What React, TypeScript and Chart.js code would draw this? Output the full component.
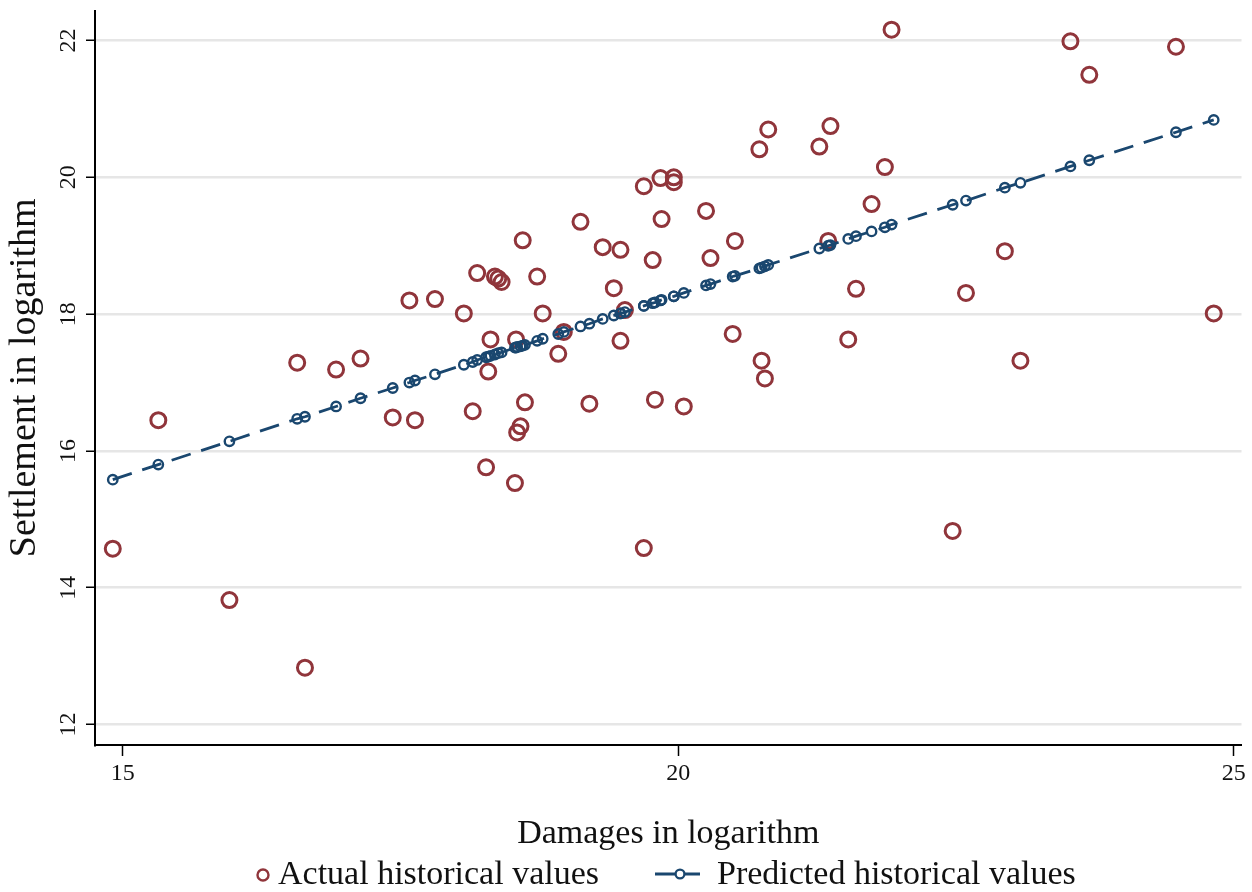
import React, { useEffect, useRef } from "react";
import { Chart, registerables } from "chart.js";

Chart.register(...registerables);

// ---- data ----
const damages = [
  14.91, 15.32, 15.96, 16.57, 16.64, 16.92, 17.14, 17.43, 17.58, 17.63,
  17.81, 18.07, 18.15, 18.19, 18.27, 18.29, 18.31, 18.35, 18.38, 18.41,
  18.53, 18.54, 18.55, 18.58, 18.6, 18.62, 18.73, 18.78, 18.92, 18.97,
  19.12, 19.2, 19.32, 19.42, 19.48, 19.48, 19.52, 19.69, 19.69, 19.77,
  19.79, 19.84, 19.85, 19.96, 19.96, 20.05, 20.25, 20.29, 20.49, 20.51,
  20.73, 20.75, 20.78, 20.81, 21.27, 21.35, 21.37, 21.53, 21.6, 21.74,
  21.86, 21.92, 22.47, 22.59, 22.94, 23.08, 23.53, 23.7, 24.48, 24.82,
];

const settlementActual = [
  14.57, 16.45, 13.82, 17.29, 12.83, 17.19, 17.35, 16.49, 18.2, 16.45,
  18.22, 18.01, 16.58, 18.6, 15.76, 17.16, 17.63, 18.55, 18.52, 18.47,
  15.53, 17.63, 16.27, 16.36, 19.08, 16.71, 18.55, 18.01, 17.42, 17.74,
  19.35, 16.69, 18.98, 18.38, 18.94, 17.61, 18.06, 19.87, 14.58, 18.79,
  16.75, 19.99, 19.39, 20.0, 19.93, 16.65, 19.51, 18.82, 17.71, 19.07,
  20.41, 17.32, 17.06, 20.7, 20.45, 19.07, 20.75, 17.63, 18.37, 19.61,
  20.15, 22.16, 14.83, 18.31, 18.92, 17.32, 21.99, 21.5, 21.91, 18.01,
];

const settlementPredicted = [
  15.58, 15.8, 16.14, 16.47, 16.5, 16.65, 16.77, 16.92, 17.0, 17.03,
  17.12, 17.26, 17.3, 17.33, 17.37, 17.38, 17.39, 17.41, 17.43, 17.44,
  17.51, 17.51, 17.52, 17.53, 17.54, 17.55, 17.61, 17.64, 17.71, 17.74,
  17.82, 17.86, 17.93, 17.98, 18.01, 18.01, 18.03, 18.12, 18.12, 18.16,
  18.17, 18.2, 18.21, 18.26, 18.26, 18.31, 18.42, 18.44, 18.55, 18.56,
  18.67, 18.68, 18.7, 18.72, 18.96, 19.0, 19.01, 19.1, 19.14, 19.21,
  19.27, 19.31, 19.6, 19.66, 19.85, 19.92, 20.16, 20.25, 20.66, 20.84,
];

const xTicks = [15, 20, 25];
const yTicks = [12, 14, 16, 18, 20, 22];
const seriesLabels = ["Actual historical values", "Predicted historical values"];
const xTitle = "Damages in logarithm";
const yTitle = "Settlement in logarithm";

const RED = "rgb(144,53,59)";
const NAVY = "rgb(26,71,111)";
const TEXT = "#111111";
const FONT = '"Liberation Serif", "Times New Roman", serif';

const legendPlugin = {
  id: "stataLegend",
  afterDraw(chart: any) {
    const ctx = chart.ctx as CanvasRenderingContext2D;
    const actualLabel = chart.data.datasets[1].label;
    const predictedLabel = chart.data.datasets[0].label;
    ctx.save();
    const yc = 874;
    // actual marker
    ctx.strokeStyle = RED;
    ctx.lineWidth = 2.4;
    ctx.beginPath();
    ctx.arc(263, yc + 1, 5.5, 0, Math.PI * 2);
    ctx.stroke();
    ctx.fillStyle = TEXT;
    ctx.font = `34px ${FONT}`;
    ctx.textBaseline = "alphabetic";
    ctx.textAlign = "left";
    ctx.fillText(actualLabel, 278, 884);
    // predicted marker (line + circle)
    ctx.strokeStyle = NAVY;
    ctx.lineWidth = 3;
    ctx.beginPath();
    ctx.moveTo(655, yc);
    ctx.lineTo(700, yc);
    ctx.stroke();
    ctx.lineWidth = 2.3;
    ctx.beginPath();
    ctx.arc(680, yc, 4.4, 0, Math.PI * 2);
    ctx.fillStyle = "#ffffff";
    ctx.fill();
    ctx.stroke();
    ctx.fillStyle = TEXT;
    ctx.fillText(predictedLabel, 717, 884);
    ctx.restore();
  },
};

export default function App() {
  const canvasRef = useRef<HTMLCanvasElement | null>(null);

  useEffect(() => {
    document.body.style.margin = "0";
    document.body.style.background = "#ffffff";
    const canvas = canvasRef.current;
    if (!canvas) return;

    const chart = new Chart(canvas, {
      type: "scatter",
      data: {
        datasets: [
          {
            label: seriesLabels[1],
            data: damages.map((x, i) => ({ x, y: settlementPredicted[i] })),
            showLine: true,
            borderColor: NAVY,
            borderWidth: 2.8,
            borderDash: [20, 11],
            tension: 0,
            pointRadius: 4.7,
            pointHoverRadius: 4.7,
            pointBorderWidth: 2.4,
            pointBorderColor: NAVY,
            pointBackgroundColor: "rgba(0,0,0,0)",
          },
          {
            label: seriesLabels[0],
            data: damages.map((x, i) => ({ x, y: settlementActual[i] })),
            showLine: false,
            pointRadius: 7.5,
            pointHoverRadius: 7.5,
            pointBorderWidth: 3,
            pointBorderColor: RED,
            pointBackgroundColor: "rgba(0,0,0,0)",
          },
        ],
      },
      options: {
        animation: false,
        responsive: true,
        maintainAspectRatio: false,
        events: [],
        layout: { padding: { top: 7, right: 7, left: 0, bottom: 0 } },
        plugins: {
          legend: { display: false },
          tooltip: { enabled: false },
        },
        scales: {
          x: {
            type: "linear",
            min: 14.75,
            max: 25.07,
            afterBuildTicks: (s: any) => {
              s.ticks = xTicks.map((v) => ({ value: v }));
            },
            afterFit: (s: any) => {
              s.height = 147;
              s.paddingLeft = 0;
              s.paddingRight = 0;
            },
            grid: {
              drawOnChartArea: false,
              drawTicks: true,
              tickLength: 11,
              tickColor: "#000",
              tickWidth: 1.5,
            },
            border: { display: true, color: "#000", width: 2 },
            ticks: {
              font: { family: FONT, size: 24 },
              color: TEXT,
              padding: 3,
              maxRotation: 0,
              minRotation: 0,
            },
            title: {
              display: true,
              text: xTitle,
              font: { family: FONT, size: 34 },
              color: TEXT,
              padding: { top: 0, bottom: 38 },
            },
          },
          y: {
            type: "linear",
            min: 11.7,
            max: 22.44,
            afterBuildTicks: (s: any) => {
              s.ticks = yTicks.map((v) => ({ value: v }));
            },
            afterFit: (s: any) => {
              s.width = 95;
              s.paddingTop = 0;
              s.paddingBottom = 0;
            },
            grid: {
              color: "#e6e6e6",
              lineWidth: 2.5,
              drawTicks: true,
              tickLength: 9,
              tickColor: "#000",
              tickWidth: 1.5,
            },
            border: { display: true, color: "#000", width: 2 },
            ticks: {
              font: { family: FONT, size: 24 },
              color: TEXT,
              padding: 5,
              minRotation: 90,
              maxRotation: 90,
              crossAlign: "center",
            },
            title: {
              display: true,
              text: yTitle,
              font: { family: FONT, size: 38 },
              color: TEXT,
              padding: { top: 2, bottom: 0 },
            },
          },
        },
      } as any,
      plugins: [legendPlugin],
    });

    return () => {
      chart.destroy();
    };
  }, []);

  return (
    <div style={{ width: 1252, height: 892, position: "relative" }}>
      <canvas ref={canvasRef} />
    </div>
  );
}
